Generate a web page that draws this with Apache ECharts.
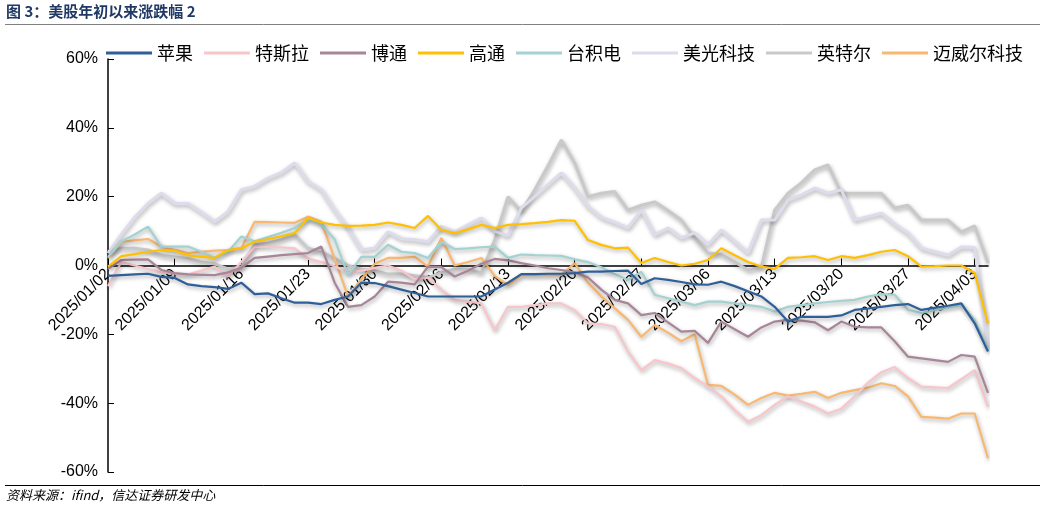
<!DOCTYPE html>
<html><head><meta charset="utf-8">
<script src="https://cdn.jsdelivr.net/npm/echarts@6/dist/echarts.min.js"></script>
<style>html,body{margin:0;padding:0;background:#fff}#c{width:1045px;height:511px}</style>
</head><body><div id="c"></div>
<script>
// trading days 2025-01-02 .. 2025-04-04 (weekdays)
const categories = [];
(function(){let d=new Date(Date.UTC(2025,0,2));const end=new Date(Date.UTC(2025,3,4));
while(d<=end){const w=d.getUTCDay();if(w!==0&&w!==6){const m=String(d.getUTCMonth()+1).padStart(2,'0'),dd=String(d.getUTCDate()).padStart(2,'0');categories.push('2025/'+m+'/'+dd);}d=new Date(d.getTime()+86400000);}})();

const yTicks = [-60,-40,-20,0,20,40,60];
const apple = [-3,-2.8,-2.6,-2.4,-3.3,-3.6,-5.5,-6,-6.3,-6.8,-5,-8.3,-8.1,-9.5,-10.8,-10.8,-11.2,-10,-9,-5,-5.1,-6,-7,
 -8,-9,-9,-9,-9,-9,-7,-5,-2.5,-2.5,-2.4,-2.4,-2.2,-1.8,-1.8,-1.6,-1.5,-5.4,-3.7,-4.2,-4.8,-5.5,
 -5.6,-4.7,-6,-7.5,-9,-12,-16.3,-14.9,-14.9,-14.9,-14.5,-12.9,-12.5,-12,-11.5,-11.2,-12.9,-12.3,-11.7,-11,-16.8,-25];
const tesla = [-6,1,0,-1,-2,-2.4,-2.6,-1.5,-0.3,-3.2,1,5.5,5.4,5.3,5,2,1,-0.2,-2,-1.5,-0.7,0,-1.5,-4,-3.5,-7,-10,-10.5,-11,-18.8,
 -12,-12,-11.5,-11,-11,-13,-16.8,-17,-17.8,-25,-30.4,-27.5,-28.5,-29.8,-32.7,-35.2,-38,-42,-45.4,-43.5,-40.5,-38,-39.5,-41,-43,-41.6,
 -38,-34,-31,-29.5,-32.7,-35.2,-35.4,-35.6,-33,-30.4,-41];
const broadcom = [-1,1.6,1.7,1.8,-1.3,-2.2,-2.6,-2.7,-2.8,-2,-0.7,2.2,2.6,3,3.3,3.6,5.5,-5,-12,-11.5,-9,-4.7,-5,-5.5,-0.3,-0.5,-3.2,-1.5,0.5,1.9,
 1.5,0.7,0,-0.8,-1.3,-2,-3.5,-7,-10,-11,-14.4,-13.8,-16.5,-19.2,-19,-22.5,-16.3,-18.5,-20.7,-18,-16.3,-15.8,-16,-16.5,-18.8,-16.3,
 -17.8,-18,-18,-22,-26.5,-27,-27.5,-28,-26,-26.5,-37];
const qualcomm = [-0.3,2.7,3.3,4,4.5,4.3,3,2.5,2.2,4.5,5,6.9,7.7,8.5,9.4,13.8,12.5,11.8,11.5,11.6,11.8,12.5,11.8,10.9,14.4,10.3,9.4,10.5,11.8,10.9,
 11.8,12,12.3,12.7,13.2,13,7.4,6,5,5.2,0.7,2.2,1,0,0.5,1.6,5,3,1,-0.3,-1,2.2,2.4,2.7,1.6,2.7,2.2,3,4,4.5,2.7,-0.3,-0.2,0,0,-2.2,-16.8];
const tsmc = [2.5,7,9,11.3,5.5,5.5,5.5,4,2.2,4,8.4,7,8.3,9.5,10.9,13.5,12,7.6,-2.8,2.5,2.5,6,4,3.6,2.2,6.9,4.8,5,5.3,5.5,
 2.2,3.2,3,2.9,2.8,1.8,1,-0.5,-2.5,-4.2,-1.8,-8.5,-9.5,-10.5,-11.5,-10.5,-10.5,-11,-11.5,-12,-13.4,-12,-11.5,-11,-10.6,-10.3,
 -10,-9,-8.3,-8.5,-12.9,-13.8,-13,-12.2,-11.5,-15.8,-24.6];
const micron = [3.6,9,14,18,21,18,18,15.5,12.7,15.6,22,23,25.4,27,29.8,24.4,22,16,10.9,4.5,5,9.8,7.8,7.5,6.9,11.3,9.8,11.8,13.8,10,
 8.6,16.7,20,23.5,26.9,22.5,17.1,14,12.5,10.9,16.1,8.9,10.9,8,9.5,6,10.3,7,3.6,13.2,13.2,19,20.5,22.5,21,22,13.2,14.2,15.2,12,
 9.4,5,4,3,5.4,5.2,-23.6];
const intel = [4,5,5,4.5,3,2.5,2,1,0.5,-1,-0.5,6,6.5,7.5,8.9,5,4,2,0,-1,-1.5,-2.5,-2.5,-3,-3.5,-2,-1,-1,-2.2,7.4,
 20,15.6,22,29,36.5,29.8,20,21,21.5,16.1,17.5,18.5,16,13.2,8,3.6,3.2,1,-1.3,-0.5,16.1,21,24,27.8,29.2,21,21,21,21,16.7,
 17.5,13.2,13.2,13.2,9.8,11.5,0.7];
const marvell = [2.2,6.9,7.3,7.7,5.5,4.5,3.6,4,4.3,4.5,5,12.7,12.6,12.5,12.4,14.2,12.7,2,-9,-4,0.5,2.2,2.2,2.5,-0.3,8,0,1,2.2,-3,
 -5.7,-2.8,-2.8,-2.8,-2.8,0.7,-5,-9,-12.4,-15.8,-20.7,-17.3,-19.5,-22,-20,-34.7,-35,-37.5,-40.5,-38.5,-37,-37.8,-37.3,-36.7,-38.5,-37,
 -36.2,-35.5,-34.2,-35,-38,-44,-44.2,-44.5,-43,-43,-56];

const seriesNames = ['苹果','特斯拉','博通','高通','台积电','美光科技','英特尔','迈威尔科技'];
const seriesData = [apple,tesla,broadcom,qualcomm,tsmc,micron,intel,marvell];
const colors = ['#2F5F98','#F8C5CB','#A88597','#FFC000','#A4D2D2','#DCDCEC','#C9C9C9','#F9B870'];
const order = [6,5,7,1,2,4,3,0]; // draw order (back to front)

const chart = echarts.init(document.getElementById('c'));
const series = seriesNames.map((n,i)=>({
  name:n, type:'line', data:seriesData[i], showSymbol:false, symbol:'none',
  z: 2+order.indexOf(i),
  lineStyle:{width:(i===6||i===5)?3:2.2, color:colors[i], shadowColor:'rgba(0,0,0,0.35)', shadowBlur:4, shadowOffsetX:1, shadowOffsetY:2},
  itemStyle:{color:colors[i]}
}));
chart.setOption({
  animation:false,
  color:colors,
  textStyle:{fontFamily:'Liberation Sans, Arial, Noto Sans CJK SC, sans-serif'},
  legend:{top:44, left:106, width:940, itemWidth:46, itemHeight:3, itemGap:11, icon:'rect', padding:0,
    textStyle:{fontSize:18, color:'#000', fontFamily:'Noto Sans CJK SC'}, data:seriesNames},
  grid:{left:108, right:57, top:59, bottom:39, containLabel:false, outerBoundsMode:'none'},
  xAxis:{type:'category', data:categories, boundaryGap:false, position:'bottom', offset:-206.5,
    axisLine:{onZero:false, lineStyle:{color:'#000', width:1.5}},
    axisTick:{inside:true, interval:4, length:7, lineStyle:{color:'#000'}},
    axisLabel:{interval:4, rotate:45, fontSize:16, color:'#000', margin:6}},
  yAxis:{type:'value', min:-60, max:60, interval:20,
    axisLine:{show:true, lineStyle:{color:'#000', width:1.5}},
    axisTick:{show:true, inside:true, length:6, lineStyle:{color:'#000'}},
    splitLine:{show:false},
    axisLabel:{fontSize:16, color:'#000', formatter:v=>v+'%', margin:10}},
  graphic:[
    {type:'text', left:6, top:4, style:{text:'图 3：美股年初以来涨跌幅 2', fill:'#1F3864', font:'bold 15px "Noto Sans CJK SC"'}},
    {type:'line', shape:{x1:5,y1:24.5,x2:1040,y2:24.5}, style:{stroke:'#808080', lineWidth:1}},
    {type:'line', shape:{x1:5,y1:485.5,x2:1040,y2:485.5}, style:{stroke:'#000', lineWidth:1}},
    {type:'text', left:6, top:489, style:{text:'资料来源：ifind，信达证券研发中心', fill:'#000', font:'italic 13px "Noto Sans CJK SC"'}}
  ],
  series
});
</script></body></html>
